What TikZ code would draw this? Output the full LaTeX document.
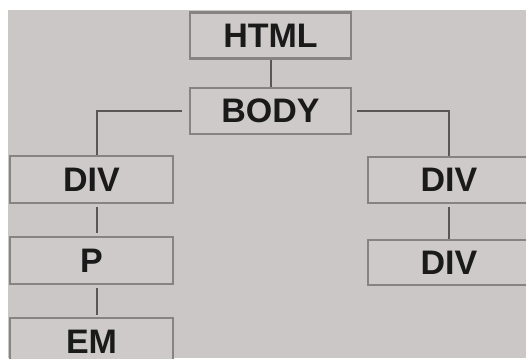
\documentclass[tikz,border=0pt]{standalone}
\usepackage{fontspec}
\setmainfont{Liberation Sans}
\definecolor{bgc}{HTML}{CBC7C7}
\definecolor{boxfill}{HTML}{CECACA}
\definecolor{boxedge}{HTML}{878383}
\definecolor{linec}{HTML}{5A5656}
\definecolor{txtc}{HTML}{1A1A1A}
\begin{document}
\begin{tikzpicture}[x=1pt,y=1pt,
  tag/.style={draw=boxedge, fill=boxfill, line width=2.5pt, minimum height=46pt,
    inner sep=0pt, text=txtc, font=\fontsize{34}{34}\selectfont\bfseries},
  link/.style={draw=linec, line width=2pt}]
\useasboundingbox (0,0) rectangle (526,358);
\clip (0,0) rectangle (526,358);
\fill[white] (0,0) rectangle (526,358);
\fill[bgc] (8,0) rectangle (526,348);
\node[tag, minimum width=161pt] (html) at (270.5,322.5) {HTML};
\node[tag, minimum width=161pt] (body) at (270.5,247) {BODY};
\node[tag, minimum width=163pt, minimum height=47pt] (ldiv) at (91.5,178.5) {DIV};
\node[tag, minimum width=163pt, minimum height=47pt] (p) at (91.5,97.5) {P};
\node[tag, minimum width=163pt, minimum height=47pt] (em) at (91.5,16.5) {EM};
\node[tag, minimum width=162pt] (rdiv) at (449,178) {DIV};
\node[tag, minimum width=162pt, minimum height=45pt] (rdivb) at (449,95.5) {DIV};
\draw[link] (html.south) -- (body.north);
\draw[link, shorten <=7pt] (body.west) -| ([xshift=5.5pt]ldiv.north);
\draw[link, shorten <=5pt] (body.east) -| (rdiv.north);
\draw[link, shorten <=3pt, shorten >=3pt] ([xshift=5.5pt]ldiv.south) -- ([xshift=5.5pt]p.north);
\draw[link, shorten <=3pt, shorten >=2pt] ([xshift=5.5pt]p.south) -- ([xshift=5.5pt]em.north);
\draw[link, shorten <=3pt] (rdiv.south) -- (rdivb.north);
\end{tikzpicture}
\end{document}
